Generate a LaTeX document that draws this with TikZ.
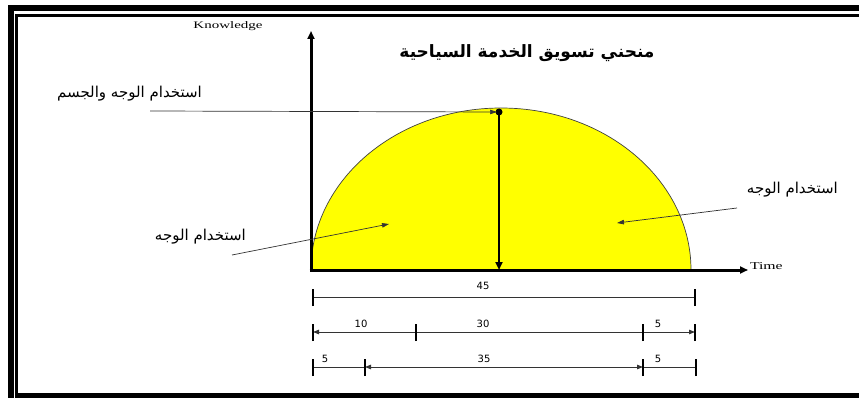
\documentclass[tikz,border=0pt]{standalone}
\usepackage{fontspec}
\setmainfont{Liberation Serif}
\newfontfamily\arabicfont[Script=Arabic]{DejaVu Sans}
\newfontfamily\numfont{DejaVu Sans}
\TeXXeTstate=1
\usetikzlibrary{arrows.meta}
\newcommand\sxw[1]{\scalebox{1.5}[1]{#1}}
\definecolor{pureyellow}{RGB}{255,255,0}
\begin{document}
\begin{tikzpicture}[x=1pt,y=-1pt,
  axisline/.style={line width=3pt},
  dimline/.style={line width=0.9pt, black!80},
  tickline/.style={line width=1.6pt},
  lbl/.style={inner sep=0pt, outer sep=0pt},
  ar/.style={font=\arabicfont\fontsize{15}{17}\selectfont, inner sep=0pt},
  num/.style={font=\numfont\fontsize{10}{11}\selectfont, inner sep=0pt},
  bigtip/.style={-{Triangle[length=8pt,width=7pt]}},
  smalltip/.style={-{Triangle[length=6pt,width=4.5pt]}},
  bothtip/.style={{Triangle[length=6pt,width=4.5pt]}-{Triangle[length=6pt,width=4.5pt]}},
  pointer/.style={line width=0.7pt, black!80, -{Triangle[length=7pt,width=4.5pt]}}
]
\useasboundingbox (0,0) rectangle (859,398);
\clip (0,0) rectangle (859,398);
% page frame
\draw[line width=6pt] (11,8) rectangle (900,440);
\draw[line width=3pt] (16.8,15.5) rectangle (900,395.5);
\draw[line width=5pt] (15.3,395.5) -- (900,395.5);
% yellow curve
\fill[pureyellow] (311,270) arc[start angle=180,end angle=0,x radius=190pt,y radius=162pt] -- cycle;
\draw[line width=0.7pt, black!75] (311,270) arc[start angle=180,end angle=0,x radius=190pt,y radius=162pt];
% axes
\coordinate (O) at (311,270);
\coordinate (ytop) at (311,31);
\coordinate (xend) at (748,270);
\draw[axisline, bigtip] ([yshift=1.5pt]O) -- (ytop);
\draw[axisline, bigtip] ([xshift=-1.5pt]O) -- (xend);
\node[lbl] (know) at (228,26) {\fontsize{10}{11}\selectfont\sxw{Knowledge}};
\node[lbl, anchor=west] (time) at (750,266) {\fontsize{10.5}{11}\selectfont\sxw{Time}};
% title
\node[ar, font=\arabicfont\bfseries\fontsize{17}{19}\selectfont] (title) at (527,53) {\beginR منحني تسويق الخدمة السياحية\endR};
% peak
\coordinate (peak) at (499,112);
\coordinate (base) at (499,270);
\fill (peak) circle (3.5pt);
\draw[line width=2.6pt, bigtip] (peak) -- (base);
\node[ar, anchor=east] (lbltop) at (202,94) {\beginR استخدام الوجه والجسم\endR};
\coordinate (ptop) at (150,111);
\draw[pointer] (ptop) -- ([xshift=-2pt]peak);
% left label
\node[ar, anchor=east] (lblleft) at (246,237) {\beginR استخدام الوجه\endR};
\coordinate (lfrom) at (232,255);
\coordinate (lto) at (389,224);
\draw[pointer] (lfrom) -- (lto);
% right label
\node[ar, anchor=east] (lblright) at (838,190) {\beginR استخدام الوجه\endR};
\coordinate (rfrom) at (737,208);
\coordinate (rto) at (617,223);
\draw[pointer] (rfrom) -- (rto);
% dimension row 1
\coordinate (a1) at (313,297); \coordinate (a2) at (695,297);
\draw[dimline] (a1) -- (a2);
\foreach \p in {a1,a2} \draw[tickline] ([yshift=-9pt]\p) -- ([yshift=8pt]\p);
\node[num] (n45) at (483,286) {45};
% dimension row 2
\coordinate (b1) at (313,332); \coordinate (b2) at (416,332);
\coordinate (b3) at (643,332); \coordinate (b4) at (695,332);
\draw[dimline, smalltip] (b2) -- (b1);
\draw[dimline] (b2) -- (b3);
\draw[dimline, smalltip] (b3) -- (b4);
\foreach \p in {b1,b2,b3,b4} \draw[tickline] ([yshift=-9pt]\p) -- ([yshift=8pt]\p);
\node[num] (n10) at (361,324) {10};
\node[num] (n30) at (483,324) {30};
\node[num] (n5a) at (658,324) {5};
% dimension row 3
\coordinate (c1) at (313,367); \coordinate (c2) at (365,367);
\coordinate (c3) at (643,367); \coordinate (c4) at (696,367);
\draw[dimline] (c1) -- (c2);
\draw[dimline, bothtip] (c2) -- (c3);
\draw[dimline] (c3) -- (c4);
\foreach \p in {c1,c2,c3,c4} \draw[tickline] ([yshift=-9pt]\p) -- ([yshift=8pt]\p);
\node[num] (n5b) at (325,359) {5};
\node[num] (n35) at (484,359) {35};
\node[num] (n5c) at (658,359) {5};
\end{tikzpicture}
\end{document}
